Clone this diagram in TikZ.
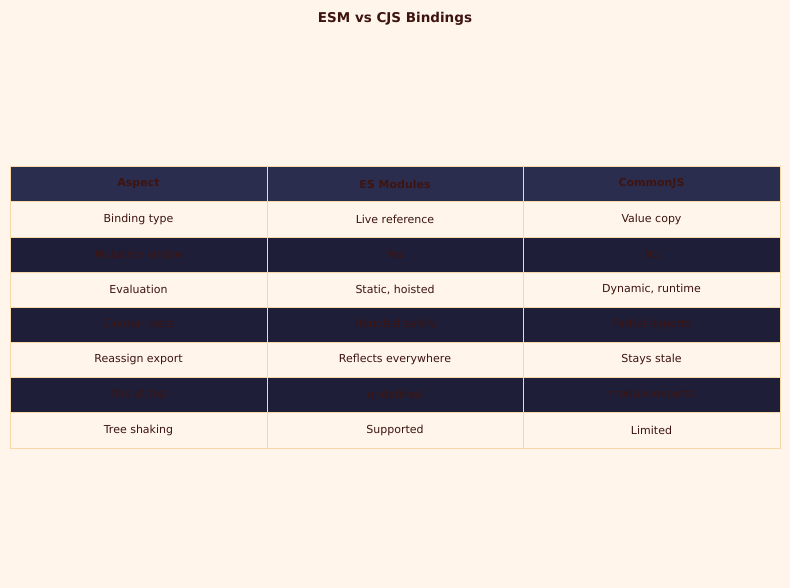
\documentclass[tikz,border=0pt]{standalone}
\usepackage{fontspec}
\setmainfont{DejaVu Sans}
\definecolor{bg}{HTML}{FFF5EB}
\definecolor{hd}{HTML}{2B2D4F}
\definecolor{dk}{HTML}{1E1E38}
\definecolor{tx}{HTML}{3D1410}
\definecolor{ln}{HTML}{F8D8A8}
\begin{document}
\begin{tikzpicture}[x=1pt,y=-1pt,
  cell/.style={anchor=center,text=tx,font=\fontsize{11}{13}\selectfont},
  hcell/.style={cell,font=\fontsize{11}{13}\selectfont\bfseries}]
\fill[bg] (0,0) rectangle (790,588);
\useasboundingbox (0,0) rectangle (790,588);
\node[text=tx,font=\fontsize{13.5}{16}\selectfont\bfseries] (title) at (395,19) {ESM vs CJS Bindings};
\def\xa{10}\def\xb{267}\def\xc{523}\def\xd{780}
% row fills
\fill[hd] (\xa,166) rectangle (\xd,201);
\foreach \t/\b in {237/272,307/342,377/412} \fill[dk] (\xa,\t) rectangle (\xd,\b);
% grid
\draw[ln,line width=0.8] (\xa,166) rectangle (\xd,448);
\foreach \y in {201,237,272,307,342,377,412} \draw[ln,line width=0.6] (\xa,\y) -- (\xd,\y);
\foreach \x in {\xb,\xc} \draw[ln,line width=0.6] (\x,166) -- (\x,448);
% text
\node[hcell] (h1) at (138.5,184) {Aspect};
\node[hcell] (h2) at (395,184) {ES Modules};
\node[hcell] (h3) at (651.5,184) {CommonJS};
\foreach \y/\a/\b/\c [count=\i] in {
 219/Binding type/Live reference/Value copy,
 254.5/Mutation visible/Yes/No,
 289.5/Evaluation/{Static, hoisted}/{Dynamic, runtime},
 324.5/Circular deps/Handled safely/Partial exports,
 359.5/Reassign export/Reflects everywhere/Stays stale,
 394.5/this at top/undefined/module.exports,
 430/Tree shaking/Supported/Limited}{
 \node[cell] (r\i a) at (138.5,\y) {\a};
 \node[cell] (r\i b) at (395,\y) {\b};
 \node[cell] (r\i c) at (651.5,\y) {\c};
}
\end{tikzpicture}
\end{document}
